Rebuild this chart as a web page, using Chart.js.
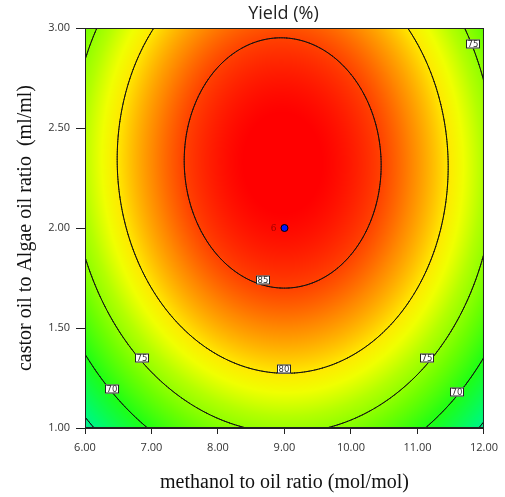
<!DOCTYPE html>
<html>
<head>
<meta charset="utf-8">
<script src="https://cdn.jsdelivr.net/npm/chart.js@4/dist/chart.umd.min.js"></script>
<style>
  html, body { margin: 0; padding: 0; background: #fff; }
  canvas { display: block; }
</style>
</head>
<body>
<canvas id="yield" width="505" height="497"></canvas>
<script>
// factor ranges (actual units)
const rangeA = [6, 12];   // methanol to oil ratio
const rangeB = [1, 3];    // castor oil to algae oil ratio

// final equation in coded factors: Intercept, A, B, AB, A^2, B^2
const termNames = ['Intercept', 'A', 'B', 'AB', 'A^2', 'B^2'];
const coefCoded = [87.0, -0.1, 4.55, -0.32, -11.25, -7.0];

const contourLevels = [65, 70, 75, 80, 85];

// contour labels: value and anchor point
const labelLevels = [85, 80, 75, 75, 75, 70, 70];
const labelXs = [8.68, 8.99, 6.86, 11.15, 11.83, 6.40, 11.60];
const labelYs = [1.74, 1.295, 1.35, 1.35, 2.92, 1.195, 1.18];

// design points shown on the surface
const designXs = [9];
const designYs = [2];
const designReps = [6];

// colour ramp (yield -> rgb)
const rampStops = [
  [62,   [0, 225, 190]],
  [66,   [0, 250, 110]],
  [70,   [30, 255, 20]],
  [73.5, [110, 255, 0]],
  [76.5, [180, 255, 0]],
  [78.5, [240, 255, 0]],
  [80,   [255, 232, 0]],
  [83,   [255, 135, 0]],
  [85,   [255, 65, 0]],
  [87.3, [255, 0, 0]]
];

function coded(v, r) { return (v - (r[0] + r[1]) / 2) / ((r[1] - r[0]) / 2); }

function yieldAt(xv, yv) {
  const a = coded(xv, rangeA), b = coded(yv, rangeB);
  const k = coefCoded;
  return k[0] + k[1] * a + k[2] * b + k[3] * a * b + k[4] * a * a + k[5] * b * b;
}

function colour(v) {
  if (v <= rampStops[0][0]) return rampStops[0][1];
  for (let i = 1; i < rampStops.length; i++) {
    const [v1, c1] = rampStops[i];
    if (v <= v1) {
      const [v0, c0] = rampStops[i - 1];
      const t = (v - v0) / (v1 - v0);
      return [0, 1, 2].map(n => c0[n] + (c1[n] - c0[n]) * t);
    }
  }
  return rampStops[rampStops.length - 1][1];
}

// heat map + contour lines under the points
const surface = {
  id: 'surface',
  beforeDatasetsDraw(chart) {
    const { ctx, chartArea: area, scales: { x, y } } = chart;
    const left = Math.round(area.left), top = Math.round(area.top);
    const w = Math.round(area.right) - left, h = Math.round(area.bottom) - top;
    const img = ctx.createImageData(w, h);
    for (let j = 0; j < h; j++) {
      const yv = y.getValueForPixel(top + j + 0.5);
      for (let i = 0; i < w; i++) {
        const xv = x.getValueForPixel(left + i + 0.5);
        const c = colour(yieldAt(xv, yv));
        const p = (j * w + i) * 4;
        img.data[p] = c[0]; img.data[p + 1] = c[1]; img.data[p + 2] = c[2]; img.data[p + 3] = 255;
      }
    }
    ctx.putImageData(img, left, top);

    // marching squares over the factor space
    const N = 240;
    const gx = [], gy = [], g = [];
    for (let i = 0; i <= N; i++) gx.push(rangeA[0] + (rangeA[1] - rangeA[0]) * i / N);
    for (let j = 0; j <= N; j++) gy.push(rangeB[0] + (rangeB[1] - rangeB[0]) * j / N);
    for (let j = 0; j <= N; j++) g.push(gx.map(xv => yieldAt(xv, gy[j])));

    ctx.save();
    ctx.beginPath();
    ctx.rect(area.left, area.top, area.right - area.left, area.bottom - area.top);
    ctx.clip();
    ctx.strokeStyle = '#111';
    ctx.lineWidth = 1;
    ctx.lineCap = 'round';
    ctx.beginPath();
    for (const L of contourLevels) {
      for (let j = 0; j < N; j++) {
        for (let i = 0; i < N; i++) {
          const corners = [
            [gx[i], gy[j], g[j][i]],
            [gx[i + 1], gy[j], g[j][i + 1]],
            [gx[i + 1], gy[j + 1], g[j + 1][i + 1]],
            [gx[i], gy[j + 1], g[j + 1][i]]
          ];
          const pts = [];
          for (let e = 0; e < 4; e++) {
            const p0 = corners[e], p1 = corners[(e + 1) % 4];
            if ((p0[2] - L) * (p1[2] - L) < 0) {
              const t = (L - p0[2]) / (p1[2] - p0[2]);
              pts.push([p0[0] + (p1[0] - p0[0]) * t, p0[1] + (p1[1] - p0[1]) * t]);
            }
          }
          for (let k = 0; k + 1 < pts.length; k += 2) {
            ctx.moveTo(x.getPixelForValue(pts[k][0]), y.getPixelForValue(pts[k][1]));
            ctx.lineTo(x.getPixelForValue(pts[k + 1][0]), y.getPixelForValue(pts[k + 1][1]));
          }
        }
      }
    }
    ctx.stroke();
    ctx.restore();
  },
  afterDatasetsDraw(chart) {
    const { ctx, chartArea: area, scales: { x, y } } = chart;
    ctx.save();
    // contour value tags
    ctx.font = '8.5px "DejaVu Sans", sans-serif';
    ctx.textAlign = 'center';
    ctx.textBaseline = 'middle';
    labelLevels.forEach((lv, i) => {
      const px = Math.round(x.getPixelForValue(labelXs[i]));
      const py = Math.round(y.getPixelForValue(labelYs[i]));
      ctx.fillStyle = '#fff';
      ctx.fillRect(px - 7, py - 4.5, 14, 9);
      ctx.strokeStyle = '#222';
      ctx.lineWidth = 1;
      ctx.strokeRect(px - 6.5, py - 4, 13, 8);
      ctx.fillStyle = '#333';
      ctx.fillText(String(lv), px, py + 0.5);
    });
    // replicate count beside design points
    ctx.font = '9px "DejaVu Serif", serif';
    ctx.fillStyle = '#a00000';
    ctx.textAlign = 'right';
    designXs.forEach((dx, i) => {
      if (designReps[i] > 1) {
        ctx.fillText(String(designReps[i]), x.getPixelForValue(dx) - 8, y.getPixelForValue(designYs[i]) + 0.5);
      }
    });
    // frame and heading
    ctx.strokeStyle = '#222';
    ctx.lineWidth = 1;
    ctx.strokeRect(area.left + 0.5, area.top + 0.5, area.right - area.left - 1, area.bottom - area.top - 1);
    ctx.fillStyle = '#222';
    ctx.font = '18px "Open Sans", sans-serif';
    ctx.textAlign = 'center';
    ctx.textBaseline = 'middle';
    ctx.fillText('Yield (%)', (area.left + area.right) / 2 - 1, 14);
    ctx.restore();
  }
};

const tickFont = { family: '"Open Sans", sans-serif', size: 11 };
const titleFont = { family: '"Liberation Serif", "Times New Roman", serif', size: 20 };

new Chart(document.getElementById('yield'), {
  type: 'scatter',
  data: {
    datasets: [{
      label: 'Design points',
      data: designXs.map((dx, i) => ({ x: dx, y: designYs[i] })),
      pointRadius: 3.5,
      pointBackgroundColor: '#0018ff',
      pointBorderColor: '#000',
      pointBorderWidth: 1
    }]
  },
  options: {
    responsive: false,
    animation: false,
    events: [],
    layout: { padding: { top: 28, right: 21, left: 0, bottom: 0 } },
    plugins: {
      legend: { display: false },
      tooltip: { enabled: false },
      title: { display: false }
    },
    scales: {
      x: {
        type: 'linear',
        min: rangeA[0], max: rangeA[1],
        ticks: { stepSize: 1, callback: v => v.toFixed(2), font: tickFont, color: '#333', padding: 7, maxRotation: 0 },
        grid: { drawOnChartArea: false, tickLength: 6, color: '#222' },
        border: { color: '#222' },
        title: { display: true, text: 'methanol to oil ratio (mol/mol)', font: titleFont, color: '#111', padding: { top: 0, bottom: 2 } },
        afterFit(s) { s.height = 69; }
      },
      y: {
        type: 'linear',
        min: rangeB[0], max: rangeB[1],
        ticks: { stepSize: 0.5, callback: v => v.toFixed(2), font: tickFont, color: '#333', padding: 6 },
        grid: { drawOnChartArea: false, tickLength: 9, color: '#222' },
        border: { color: '#222' },
        title: { display: true, text: 'castor oil to Algae oil ratio  (ml/ml)', font: titleFont, color: '#111', padding: { top: 14, bottom: 0 } },
        afterFit(s) { s.width = 85; }
      }
    }
  },
  plugins: [surface]
});
</script>
</body>
</html>
